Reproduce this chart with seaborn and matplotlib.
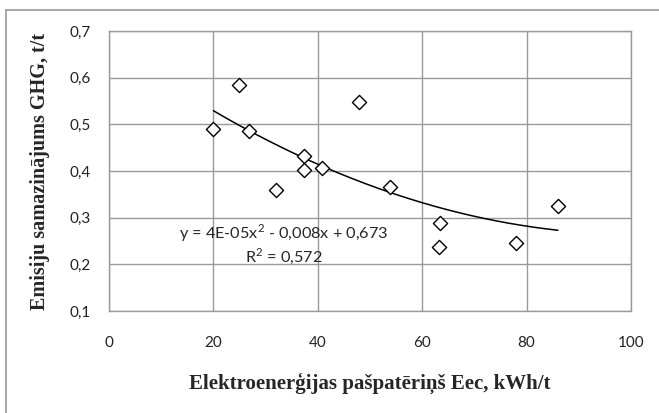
# EMISSION REDUCTION vs OWN ELECTRICITY CONSUMPTION
# -------------------------------------------------

import numpy as np
import pandas as pd
import matplotlib
matplotlib.use('Agg')
import matplotlib.pyplot as plt
from matplotlib.ticker import FuncFormatter
import seaborn as sns


# DATA ------------------

eec = [20.0, 24.9, 26.8, 32.0, 37.4, 37.4, 40.8, 47.9, 53.8, 63.2, 63.4, 78.0, 86.0]
ghg = [0.490, 0.584, 0.486, 0.359, 0.432, 0.402, 0.406, 0.548, 0.366, 0.237, 0.289, 0.246, 0.325]

x_label = 'Elektroenerģijas pašpatēriņš Eec, kWh/t'
y_label = 'Emisiju samazinājums GHG, t/t'
eq_label = 'y = 4E-05x$^2$ - 0,008x + 0,673\nR$^2$ = 0,572'


# PLOT ------------------

df = pd.DataFrame({'eec': eec, 'ghg': ghg})

sns.set_style('white')
plt.rcParams['font.family'] = ['Lato', 'DejaVu Sans']
plt.rcParams['mathtext.fontset'] = 'custom'
plt.rcParams['mathtext.rm'] = 'Lato'

fig = plt.figure(figsize=(6.59, 4.13), dpi=100)
ax = fig.add_axes([109 / 659, 1 - 311 / 413, 522 / 659, 280 / 413])

# Scatter of measured points
sns.scatterplot(data=df, x='eec', y='ghg', ax=ax, marker='D', s=52,
                facecolor='white', edgecolor='black', linewidth=1.0, zorder=3)

# Second order polynomial trendline
coef = np.polyfit(df['eec'], df['ghg'], 2)
xs = np.linspace(df['eec'].min(), df['eec'].max(), 200)
ax.plot(xs, np.polyval(coef, xs), color='black', lw=1.1, zorder=2)

ax.text(0.335, 0.239, eq_label, transform=ax.transAxes, ha='center', va='center',
        fontsize=11.7, linespacing=1.1, zorder=4)

# Axes formatting
ax.set_xlim(0, 100)
ax.set_ylim(0.1, 0.7)
ax.set_xticks(range(0, 101, 20))
ax.set_yticks(np.arange(0.1, 0.71, 0.1))
ax.yaxis.set_major_formatter(FuncFormatter(lambda v, p: f'{v:.1f}'.replace('.', ',')))
ax.tick_params(axis='both', length=0, labelsize=11, colors='#222222')
ax.tick_params(axis='y', pad=13)
ax.tick_params(axis='x', pad=18)
ax.grid(True, color='#9a9a9a', lw=1.0)
for s in ax.spines.values():
    s.set_color('#9a9a9a')
    s.set_linewidth(1.0)

ax.set_xlabel(x_label, family='Liberation Serif', fontweight='bold', fontsize=15)
ax.set_ylabel(y_label, family='Liberation Serif', fontweight='bold', fontsize=14.5)
ax.xaxis.set_label_coords(0.5, -0.22)
ax.yaxis.set_label_coords(-0.113, 0.5)

# Outer chart border (top and left visible)
fig.add_artist(plt.Line2D([6 / 659, 6 / 659], [0, 1 - 10 / 413], color='#9a9a9a', lw=1.2))
fig.add_artist(plt.Line2D([6 / 659, 1], [1 - 10 / 413, 1 - 10 / 413], color='#9a9a9a', lw=1.2))

fig.savefig('out.png', dpi=100)
